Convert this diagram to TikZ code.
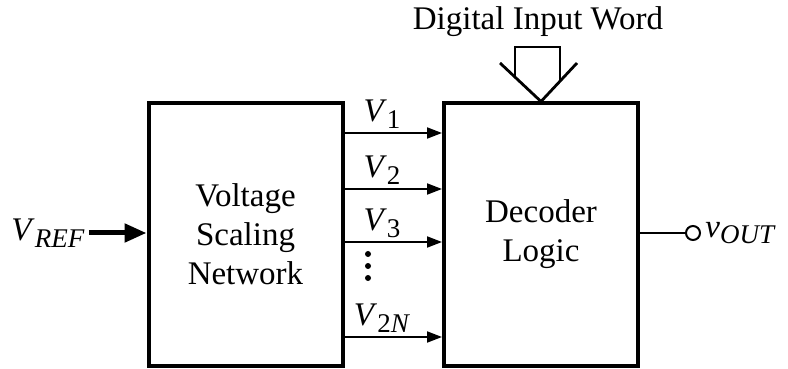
\documentclass[tikz,border=0pt]{standalone}
\usepackage{fontspec}
\setmainfont{Liberation Serif}
\usetikzlibrary{arrows.meta,positioning}
\newcommand{\vsub}[2]{\textit{#1}\raisebox{-0.45ex}{\fontsize{13.5}{14}\selectfont #2}}

\begin{document}
\begin{tikzpicture}[x=0.5pt,y=-0.5pt,font=\fontsize{16.5}{19.5}\selectfont,
  block/.style={draw,line width=2pt,minimum width=97pt,minimum height=131pt,align=center,inner sep=0pt},
  sig/.style={-{Triangle[length=7.5pt,width=5.5pt]},line width=1pt},
  lbl/.style={inner sep=0pt}]
 \useasboundingbox (0,0) rectangle (788,369);
 \node[block] (vsn) at (245.5,234.5) {Voltage\\Scaling\\Network};
 \node[block] (dec) at (541,234.5) {Decoder\\Logic};
 % reference input
 \node[lbl] (vref) at (48,233) {\vsub{V}{\textit{REF}}};
 \draw[-{Triangle[length=11pt,width=9pt]},line width=2.5pt] (vref.east)+(4,0) coordinate (vin) (vin) -- (vsn.west |- vin);
 % scaled outputs
 \foreach \y/\t/\s in {133/1/{1},189/2/{2},242/3/{3},337/4/{2\textit{N}}}{
  \coordinate (a\t) at (vsn.east |- 0,\y);
  \draw[sig] (a\t) -- (dec.west |- a\t);
  \node[lbl] (v\t) at (382,\y-19) {\vsub{V}{\s}};
 }
 \foreach \y in {254,266,278} \fill (368,\y) circle (1.5pt);
 % digital input word
 \node[lbl] (word) at (538,22) {Digital Input Word};
 \draw[line width=1.4pt] (500,63) -- (dec.north) -- (577,63);
 \draw[line width=1.4pt] (515,77) -- (515,47) -- (560,47) -- (560,80);
 % output
 \node[draw,circle,line width=1pt,inner sep=0pt,minimum size=7pt] (out) at (693,233) {};
 \draw[line width=1pt] (dec.east |- out) -- (out.west);
 \node[lbl,anchor=west] (vout) at (705,233) {\vsub{v}{\textit{OUT}}};
\end{tikzpicture}
\end{document}
